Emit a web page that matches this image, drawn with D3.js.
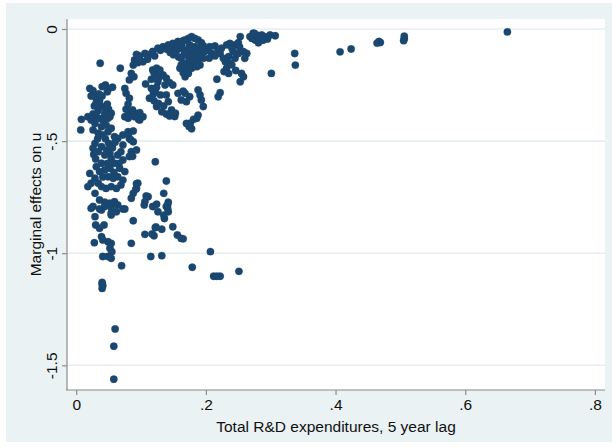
<!DOCTYPE html>
<html><head><meta charset="utf-8">
<script src="https://cdn.jsdelivr.net/npm/d3@7/dist/d3.min.js"></script>
<style>
html,body{margin:0;padding:0;background:#fff;}
svg{display:block;}
text{font-family:"Liberation Sans",Arial,Helvetica,sans-serif;fill:#111;}
</style></head>
<body>
<svg id="chart" width="612" height="447"></svg>
<script>
// ---- data ----
const xTicks = [0, 0.2, 0.4, 0.6, 0.8];
const xTickLabels = ["0", ".2", ".4", ".6", ".8"];
const yTicks = [0, -0.5, -1, -1.5];
const yTickLabels = ["0", "-.5", "-1", "-1.5"];
const xTitle = "Total R&D expenditures, 5 year lag";
const yTitle = "Marginal effects on u";

// Total R&D expenditures (5 year lag)
const rdLag = [
0.665,0.506,0.506,0.505,0.467,0.469,0.464,0.424,0.407,0.337,0.338,0.301,
0.253,0.273,0.278,0.268,0.276,0.283,0.286,0.291,0.299,0.307,0.271,0.281,0.275,0.295,0.288,
0.201,0.206,0.214,0.219,0.224,0.232,0.237,0.245,0.250,0.209,0.222,0.227,0.235,0.230,0.237,0.232,0.235,0.245,0.250,0.258,0.263,0.260,0.242,0.255,0.258,0.253,0.217,0.222,0.219,0.240,0.228,0.246,0.214,0.205,0.240,0.252,
0.168,0.173,0.178,0.183,0.188,0.193,0.175,0.183,0.191,0.170,0.178,0.186,0.194,0.173,0.181,0.188,0.196,0.175,0.183,0.191,0.170,0.178,0.186,0.168,0.173,0.198,0.196,
0.168,0.175,0.188,0.191,0.193,0.196,0.188,0.186,0.181,0.176,0.174,0.178,0.170,
0.098,0.093,0.106,0.113,0.121,0.126,0.134,0.142,0.149,0.157,0.165,0.160,0.167,0.162,0.170,0.167,0.090,0.088,0.095,0.103,0.110,0.085,0.082,0.089,0.107,
0.130,0.140,0.150,0.155,0.145,0.118,0.155,0.160,0.163,0.150,0.158,0.162,0.160,0.165,
0.118,0.124,0.129,0.122,0.134,0.139,0.116,0.126,0.137,0.144,0.149,0.116,0.122,0.130,0.139,0.113,0.120,0.127,0.135,0.124,0.142,0.157,0.165,0.162,0.170,0.147,0.153,0.132,0.139,0.144,0.120,0.128,0.124,0.119,
0.075,0.077,0.082,0.080,0.077,0.082,0.088,0.075,0.096,0.103,0.098,0.087,0.090,
0.021,0.026,0.023,0.030,0.035,0.040,0.045,0.050,0.056,0.048,0.040,0.036,0.031,0.028,0.037,0.043,0.048,0.050,0.044,0.034,0.026,0.032,0.039,0.008,0.018,0.052,0.054,0.037,0.068,
0.007,0.023,0.029,0.034,0.041,0.049,0.039,0.046,0.026,0.034,0.041,0.049,0.054,0.080,0.090,0.098,0.059,0.064,0.072,0.080,0.088,0.082,0.088,
0.029,0.026,0.034,0.039,0.044,0.052,0.054,0.064,0.069,0.072,0.059,0.039,0.031,0.036,0.044,0.052,0.067,0.075,0.021,0.029,0.023,0.018,0.034,0.039,0.049,0.057,0.064,0.072,0.069,0.062,0.054,0.046,0.029,0.036,0.044,0.052,0.059,0.064,0.026,0.039,0.054,0.062,0.072,
0.085,0.093,0.082,0.072,0.095,0.093,0.088,0.085,0.122,0.111,0.106,0.118,0.124,0.126,0.139,0.142,0.135,0.152,0.081,0.084,0.087,
0.045,0.050,0.056,0.060,0.047,0.033,0.058,0.041,0.030,0.066,0.048,0.027,
0.023,0.036,0.044,0.054,0.054,0.075,0.029,0.030,0.036,0.043,0.039,0.041,0.049,0.054,0.052,0.055,0.049,0.041,0.054,0.028,0.070,0.085,0.088,0.105,0.139,0.142,0.136,0.106,0.120,0.122,0.132,0.149,0.156,0.162,0.165,0.115,0.132,0.040,0.041,0.040,0.040,
0.093,0.092,0.108,0.141,0.141,0.135,0.117,0.123,
0.207,0.179,0.212,0.217,0.222,0.251,0.060,0.058,0.058
];

// Marginal effects on u
const marginalEffect = [
-0.013,-0.032,-0.044,-0.052,-0.056,-0.060,-0.063,-0.089,-0.102,-0.109,-0.161,-0.198,
-0.034,-0.019,-0.027,-0.034,-0.049,-0.042,-0.027,-0.034,-0.027,-0.030,-0.042,-0.061,-0.020,-0.045,-0.050,
-0.094,-0.079,-0.076,-0.094,-0.086,-0.071,-0.064,-0.071,-0.061,-0.109,-0.109,-0.131,-0.123,-0.146,-0.153,-0.175,-0.198,-0.131,-0.109,-0.101,-0.109,-0.131,-0.101,-0.198,-0.213,-0.235,-0.224,-0.284,-0.302,-0.160,-0.190,-0.185,-0.120,-0.130,-0.085,-0.080,
-0.049,-0.042,-0.034,-0.042,-0.049,-0.061,-0.071,-0.079,-0.086,-0.094,-0.101,-0.109,-0.116,-0.123,-0.131,-0.138,-0.131,-0.146,-0.153,-0.161,-0.168,-0.175,-0.168,-0.213,-0.198,-0.100,-0.075,
-0.287,-0.302,-0.272,-0.294,-0.317,-0.346,-0.384,-0.398,-0.403,-0.420,-0.435,-0.445,-0.421,
-0.120,-0.113,-0.109,-0.113,-0.120,-0.086,-0.079,-0.071,-0.064,-0.056,-0.052,-0.086,-0.109,-0.131,-0.153,-0.183,-0.138,-0.161,-0.150,-0.146,-0.135,-0.198,-0.227,-0.213,-0.245,
-0.095,-0.090,-0.080,-0.095,-0.105,-0.100,-0.070,-0.065,-0.075,-0.115,-0.125,-0.160,-0.175,-0.195,
-0.183,-0.175,-0.183,-0.205,-0.205,-0.220,-0.224,-0.235,-0.250,-0.239,-0.250,-0.265,-0.280,-0.294,-0.294,-0.309,-0.320,-0.332,-0.343,-0.346,-0.324,-0.287,-0.277,-0.317,-0.324,-0.361,-0.376,-0.369,-0.379,-0.388,-0.195,-0.215,-0.260,-0.290,
-0.265,-0.287,-0.309,-0.335,-0.358,-0.369,-0.384,-0.391,-0.403,-0.391,-0.373,-0.361,-0.376,
-0.265,-0.275,-0.299,-0.305,-0.290,-0.257,-0.250,-0.265,-0.260,-0.280,-0.299,-0.320,-0.328,-0.343,-0.340,-0.349,-0.335,-0.358,-0.379,-0.364,-0.379,-0.394,-0.400,-0.403,-0.391,-0.391,-0.376,-0.153,-0.175,
-0.450,-0.406,-0.421,-0.398,-0.406,-0.398,-0.436,-0.428,-0.450,-0.465,-0.473,-0.458,-0.443,-0.398,-0.391,-0.406,-0.480,-0.488,-0.473,-0.458,-0.455,-0.488,-0.503,
-0.510,-0.532,-0.547,-0.525,-0.562,-0.555,-0.577,-0.562,-0.547,-0.584,-0.599,-0.599,-0.614,-0.636,-0.629,-0.621,-0.621,-0.636,-0.644,-0.666,-0.688,-0.703,-0.688,-0.703,-0.659,-0.666,-0.659,-0.674,-0.696,-0.711,-0.703,-0.711,-0.733,-0.763,-0.773,-0.777,-0.770,-0.785,-0.792,-0.807,-0.822,-0.815,-0.803,
-0.547,-0.540,-0.569,-0.517,-0.688,-0.711,-0.733,-0.755,-0.592,-0.748,-0.770,-0.792,-0.782,-0.815,-0.678,-0.773,-0.733,-0.390,-0.465,-0.494,-0.568,
-0.490,-0.510,-0.530,-0.505,-0.540,-0.490,-0.640,-0.660,-0.580,-0.600,-0.600,-0.560,
-0.800,-0.803,-0.792,-0.797,-0.830,-0.803,-0.837,-0.874,-0.889,-0.874,-0.926,-0.941,-0.949,-0.956,-0.978,-0.993,-1.015,-1.015,-1.023,-0.953,-1.056,-0.956,-0.855,-0.785,-0.792,-0.815,-0.845,-0.916,-0.922,-0.886,-0.893,-0.882,-0.919,-0.934,-0.936,-1.015,-1.011,-1.130,-1.145,-1.157,-1.138,
-0.690,-0.715,-0.745,-0.785,-0.800,-0.830,-0.914,-0.883,
-0.993,-1.063,-1.103,-1.103,-1.103,-1.081,-1.338,-1.415,-1.562
];

// ---- drawing ----
const W = 612, H = 447;
const svg = d3.select("#chart");
const navy = "#1a476f";
const plot = {left: 67, right: 605, top: 19, bottom: 390};

// outer graph region
svg.append("rect").attr("x", 6).attr("y", 3).attr("width", W - 6).attr("height", 439)
   .attr("fill", "#eaf2f3");
// plot region
svg.append("rect").attr("x", plot.left).attr("y", plot.top)
   .attr("width", plot.right - plot.left).attr("height", plot.bottom - plot.top)
   .attr("fill", "#ffffff");

const x = d3.scaleLinear().domain([0, 0.8]).range([76.2, 594.9]);
const y = d3.scaleLinear().domain([0, -1.5]).range([29, 365.3]);

// gridlines
svg.append("g").selectAll("line").data(yTicks).join("line")
  .attr("x1", plot.left).attr("x2", plot.right)
  .attr("y1", d => y(d)).attr("y2", d => y(d))
  .attr("stroke", "#e6eef0").attr("stroke-width", 1.6);

// x axis
const xAxis = d3.axisBottom(x).tickValues(xTicks)
  .tickFormat((d, i) => xTickLabels[i]).tickSize(5).tickPadding(4);
const gx = svg.append("g").attr("transform", `translate(0,${plot.bottom})`).call(xAxis);
gx.select(".domain").remove();
gx.selectAll(".tick line").attr("stroke", "#8c8c8c").attr("stroke-width", 1.2);
gx.selectAll(".tick text").attr("font-size", "15.5px").attr("fill", "#111")
  .attr("font-family", '"Liberation Sans", Arial, sans-serif');

// y axis
const yAxis = d3.axisLeft(y).tickValues(yTicks)
  .tickFormat((d, i) => yTickLabels[i]).tickSize(5);
const gy = svg.append("g").attr("transform", `translate(${plot.left},0)`).call(yAxis);
gy.select(".domain").remove();
gy.selectAll(".tick line").attr("stroke", "#8c8c8c").attr("stroke-width", 1.2);
gy.selectAll(".tick text")
  .attr("font-size", "15.5px").attr("fill", "#111")
  .attr("font-family", '"Liberation Sans", Arial, sans-serif')
  .attr("x", null).attr("dy", null)
  .attr("text-anchor", "middle")
  .attr("transform", "translate(-10,0) rotate(-90)");

// axis lines
svg.append("line").attr("x1", plot.left).attr("x2", plot.left)
  .attr("y1", plot.top).attr("y2", plot.bottom + 0.6)
  .attr("stroke", "#8c8c8c").attr("stroke-width", 1.2);
svg.append("line").attr("x1", plot.left - 0.6).attr("x2", plot.right)
  .attr("y1", plot.bottom).attr("y2", plot.bottom)
  .attr("stroke", "#8c8c8c").attr("stroke-width", 1.2);

// points
const pts = rdLag.map((v, i) => ({x: v, y: marginalEffect[i]}));
svg.append("g").selectAll("circle").data(pts).join("circle")
  .attr("cx", d => x(d.x)).attr("cy", d => y(d.y)).attr("r", 3.7)
  .attr("fill", navy).attr("stroke", navy).attr("stroke-width", 0.3);

// titles
svg.append("text").attr("x", (plot.left + plot.right) / 2).attr("y", 432)
  .attr("text-anchor", "middle").attr("font-size", "15.5px").text(xTitle);
svg.append("text")
  .attr("transform", `translate(40.5,${(plot.top + plot.bottom) / 2}) rotate(-90)`)
  .attr("text-anchor", "middle").attr("font-size", "15.5px").text(yTitle);
</script>
</body></html>
